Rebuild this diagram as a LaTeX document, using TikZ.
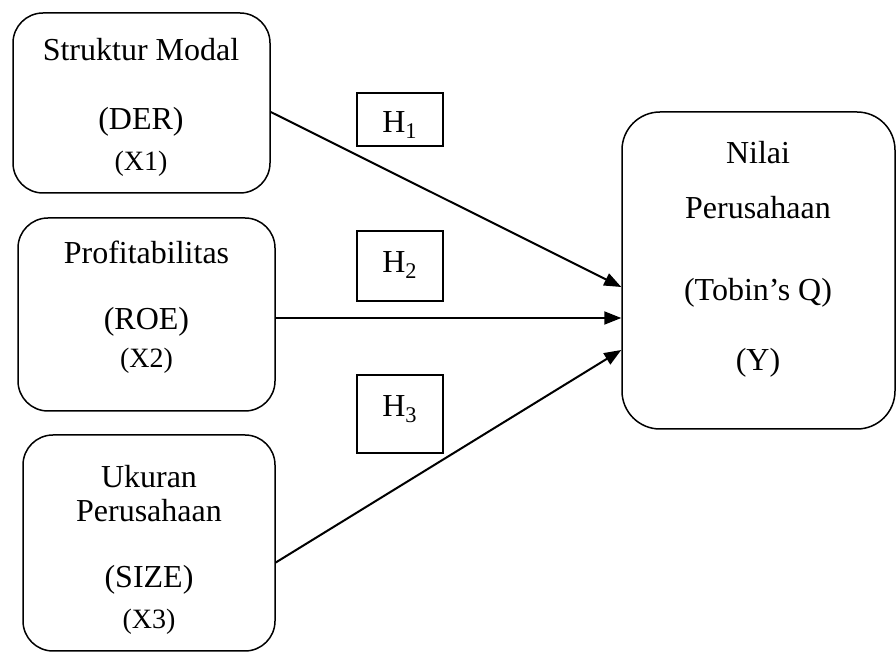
\documentclass[tikz,border=0pt]{standalone}
\usepackage{fontspec}
\setmainfont{Liberation Serif}
\usetikzlibrary{arrows.meta,calc}
\newcommand{\kode}[1]{{\fontsize{14}{17}\selectfont #1}}

\begin{document}
\begin{tikzpicture}[x=0.5pt,y=-0.5pt,
  varbox/.style={draw, line width=0.75pt, rounded corners=15pt},
  hypbox/.style={draw, line width=0.65pt, minimum width=43pt, font=\fontsize{16}{19}\selectfont},
  vartext/.style={inner sep=0pt, anchor=north, align=center, font=\fontsize{16}{19}\selectfont},
  arr/.style={-{Triangle[length=8.5pt,width=6.5pt]}, line width=1pt}]
\useasboundingbox[fill=white] (0,0) rectangle (896,652);
% variabel independen
\node[varbox, minimum width=128.5pt, minimum height=90pt] (der) at (141.5,103) {};
\node[vartext] (dertxt) at (141,38) {Struktur Modal\\[15.5pt] (DER)\\[1.5pt] \kode{(X1)}};
\node[varbox, minimum width=128.5pt, minimum height=96.5pt] (roe) at (146.5,314.5) {};
\node[vartext] (roetxt) at (146.5,241) {Profitabilitas\\[14pt] (ROE)\\ \kode{(X2)}};
\node[varbox, minimum width=126pt, minimum height=108pt] (size) at (149,543) {};
\node[vartext] (sizetxt) at (149,465) {Ukuran\\[-2pt] Perusahaan\\[14pt] (SIZE)\\[1.5pt] \kode{(X3)}};
% variabel dependen
\node[varbox, rounded corners=19pt, minimum width=136.5pt, minimum height=158.5pt] (tobin) at (758.5,270.5) {};
\node[vartext] (tobintxt) at (758,141) {Nilai\\[8.5pt] Perusahaan\\[22pt] (Tobin’s Q)\\[16pt] (Y)};
% hipotesis
\node[hypbox, minimum height=26.5pt, text height=13.5pt, text depth=0pt] (h1) at (400,119.5) {H\textsubscript{1}};
\node[hypbox, minimum height=35pt, text height=10pt, text depth=3pt] (h2) at (400,266) {H\textsubscript{2}};
\node[hypbox, minimum height=39pt, text height=10pt, text depth=7pt] (h3) at (400,414) {H\textsubscript{3}};
% pengaruh
\draw[arr] ($(der.east)+(0,9)$) -- ($(tobin.west)+(0,16.5)$);
\draw[arr] ($(roe.east)+(0,3.5)$) -- ($(tobin.west)+(0,47.5)$);
\draw[arr] ($(size.east)+(0,19.5)$) -- ($(tobin.west)+(0,79.5)$);
\end{tikzpicture}
\end{document}
